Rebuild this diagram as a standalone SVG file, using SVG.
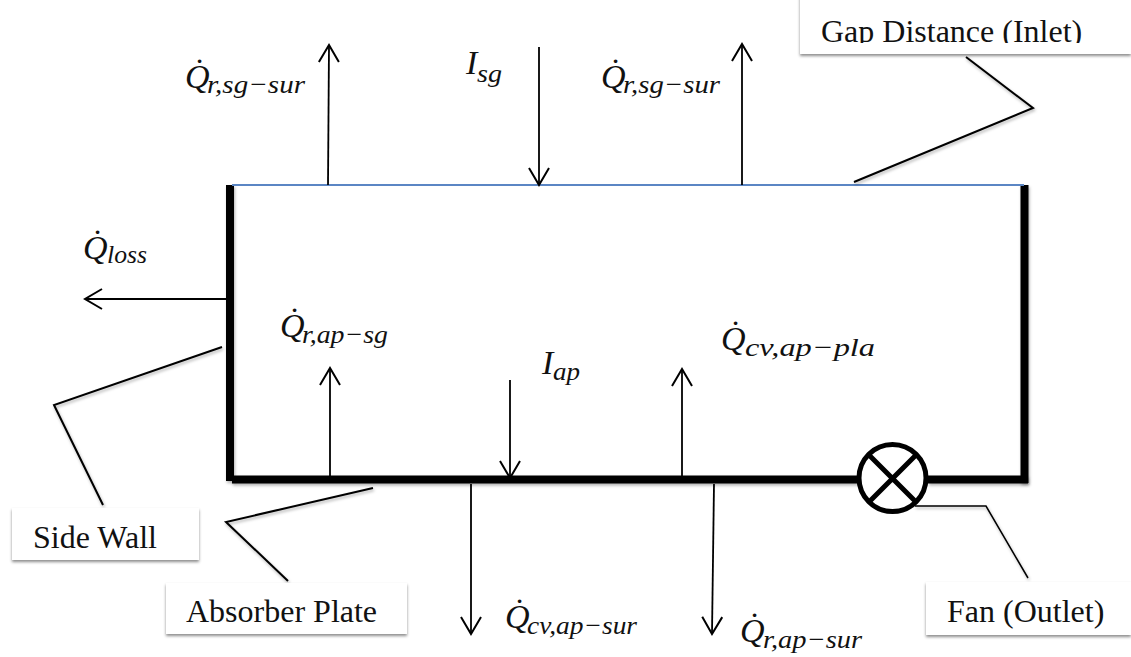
<svg xmlns="http://www.w3.org/2000/svg" width="1131" height="657" viewBox="0 0 1131 657">
<style>
.lbl{font-family:"Liberation Serif","Times New Roman",serif;font-size:32px;fill:#111}
.q{font-family:"Liberation Serif",serif;font-style:italic;font-size:34px;fill:#111}
.s{font-family:"Liberation Serif",serif;font-style:italic;font-size:26px;fill:#111}
.box{fill:#fff;filter:url(#sh)}
.wall{fill:none;stroke:#000;stroke-width:8;filter:url(#sl)}
.lead{fill:none;stroke:#000;stroke-width:2;filter:url(#sl)}
.arr{fill:none;stroke:#000;stroke-width:1.8;marker-end:url(#a)}
</style>
<defs>
<filter id="sh" filterUnits="userSpaceOnUse" x="0" y="0" width="1131" height="657"><feDropShadow dx="0" dy="2" stdDeviation="1.5" flood-color="#000" flood-opacity="0.45"/></filter>
<filter id="sl" filterUnits="userSpaceOnUse" x="0" y="0" width="1131" height="657"><feDropShadow dx="1" dy="2" stdDeviation="1.5" flood-color="#000" flood-opacity="0.3"/></filter>
<marker id="a" markerUnits="userSpaceOnUse" markerWidth="24" markerHeight="26" refX="20" refY="12" orient="auto"><path d="M3,2 L20,12 L3,22" fill="none" stroke="#000" stroke-width="2"/></marker>
<clipPath id="gc"><rect x="800" y="0" width="331" height="43"/></clipPath>
</defs>
<g id="chamber">
<path class="wall" d="M230,185 V481"/>
<path class="wall" d="M1024.500,185 V483"/>
<path class="wall" d="M232,479.500 H858 M928,479.500 H1028"/>
<path d="M232,185 H1024" fill="none" stroke="#5b86c4" stroke-width="2"/>
</g>
<g id="fan">
<circle cx="892.500" cy="478" r="33.500" fill="#fff" stroke="#000" stroke-width="5"/>
<path d="M869,455 L916,502 M916,455 L869,502" fill="none" stroke="#000" stroke-width="5"/>
</g>
<g id="connectors">
<path class="lead" d="M966,57 L1033,108 L854,182"/>
<path class="lead" d="M222,347 L54,405 L103,505"/>
<path class="lead" d="M373,488 L226,522 L288,581"/>
<path class="lead" style="stroke-width:1.500" d="M915,506 H986 L1028,578"/>
<path class="arr" d="M328,185 L329,45"/>
<path class="arr" d="M539,47 V185"/>
<path class="arr" d="M742,185 V44"/>
<path class="arr" d="M226,299 H85"/>
<path class="arr" d="M330,476 V368"/>
<path class="arr" d="M510,380 V478"/>
<path class="arr" d="M682,476 V369"/>
<path class="arr" d="M471,484 V634"/>
<path class="arr" d="M714,484 L712,634"/>
</g>
<g id="gap-distance"><rect class="box" x="800" y="-5" width="331" height="59"/><text class="lbl" x="821" y="42" clip-path="url(#gc)">Gap Distance (Inlet)</text></g>
<g id="side-wall"><rect class="box" x="12" y="508" width="187" height="52"/><text class="lbl" x="33" y="548">Side Wall</text></g>
<g id="absorber-plate"><rect class="box" x="166" y="583" width="241" height="51"/><text class="lbl" x="186" y="622">Absorber Plate</text></g>
<g id="fan-outlet"><rect class="box" x="926" y="582" width="205" height="53"/><text class="lbl" x="947" y="622">Fan (Outlet)</text></g>
<g id="q-r-sg-sur-1"><text class="q" x="185" y="88">Q̇</text><text class="s" x="207" y="93" textLength="98" lengthAdjust="spacingAndGlyphs">r,sg−sur</text></g>
<g id="i-sg"><text class="q" x="466" y="74">I</text><text class="s" x="477" y="82" textLength="25" lengthAdjust="spacingAndGlyphs">sg</text></g>
<g id="q-r-sg-sur-2"><text class="q" x="601" y="88">Q̇</text><text class="s" x="623" y="93" textLength="97" lengthAdjust="spacingAndGlyphs">r,sg−sur</text></g>
<g id="q-loss"><text class="q" x="83" y="259">Q̇</text><text class="s" x="107" y="263" textLength="40" lengthAdjust="spacingAndGlyphs">loss</text></g>
<g id="q-r-ap-sg"><text class="q" x="280" y="337">Q̇</text><text class="s" x="302" y="343" textLength="86" lengthAdjust="spacingAndGlyphs">r,ap−sg</text></g>
<g id="i-ap"><text class="q" x="542" y="374">I</text><text class="s" x="553" y="380" textLength="27" lengthAdjust="spacingAndGlyphs">ap</text></g>
<g id="q-cv-ap-pla"><text class="q" x="721" y="350">Q̇</text><text class="s" x="745" y="356" textLength="130" lengthAdjust="spacingAndGlyphs">cv,ap−pla</text></g>
<g id="q-cv-ap-sur"><text class="q" x="505" y="628">Q̇</text><text class="s" x="527" y="634" textLength="110" lengthAdjust="spacingAndGlyphs">cv,ap−sur</text></g>
<g id="q-r-ap-sur"><text class="q" x="740" y="642">Q̇</text><text class="s" x="763" y="648" textLength="99" lengthAdjust="spacingAndGlyphs">r,ap−sur</text></g>
</svg>
